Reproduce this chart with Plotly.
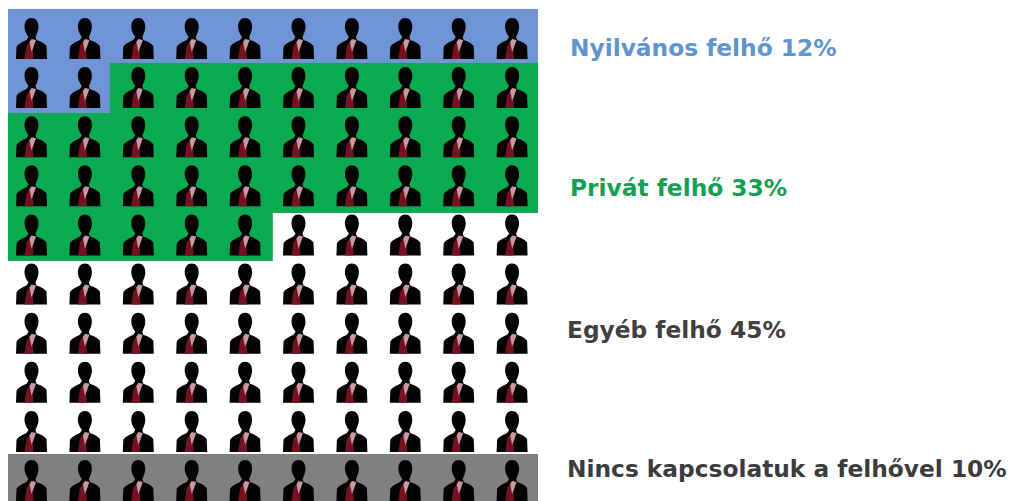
import plotly.graph_objects as go

# Data
categories = ["Nyilvános felhő", "Privát felhő", "Egyéb felhő", "Nincs kapcsolatuk a felhővel"]
percent = [12, 33, 45, 10]

# Style and layout
band_colors = ["#6f95d6", "#0aaa50", "#ffffff", "#808080"]
text_colors = ["#5f94cf", "#14a050", "#404040", "#3c3c3c"]
label_pixel_y = [48, 188, 329, 468]
n_cols = 10
n_rows = 10
col_edges = [0, 1, 1.97, 3, 4, 5.02, 6, 7, 8, 9, 10]
row_edges = [-0.1, 1.08, 2.10, 3.12, 4.14, 5.11, 6.1, 7.1, 8.1, 9.04, 10.1]

# Waffle cells, in reading order
cells = [i for i, n in enumerate(percent) for _ in range(n)]
z = [cells[r * n_cols:(r + 1) * n_cols] for r in range(n_rows)]

fig = go.Figure(go.Heatmap(
    x=col_edges, y=row_edges, z=z, zmin=0, zmax=3, showscale=False, hoverinfo="skip",
    colorscale=[[0, band_colors[0]], [1 / 6, band_colors[0]], [1 / 6, band_colors[1]], [3 / 6, band_colors[1]],
                [3 / 6, band_colors[2]], [5 / 6, band_colors[2]], [5 / 6, band_colors[3]], [1, band_colors[3]]],
))

# Person glyph, in pixels relative to its anchor (bottom centre)
body = ("M-15.5,0 L-15,12 C-14,15 -9,17 -5,19 L-3,22 C-5.5,25 -7,29 -7,32 C-7,38 -4,41 0,41 "
        "C4,41 7,38 7,32 C7,29 5.5,25 4,22 L5,19 C8,18 13,16 15,13 L15.5,0 Z")
tie = "M-7,0 L-5,13 L-2,17 L1,13 L2,0 Z"
collar = "M-2,17 L0,20 L4.5,19 L2,12 L0,7 L-1,12 Z"
shapes = []
for r in range(n_rows):
    for c in range(n_cols):
        for path, col in ((body, "#050204"), (tie, "#751222"), (collar, "#c79aa0")):
            shapes.append(dict(type="path", xref="x", yref="y", xsizemode="pixel", ysizemode="pixel",
                               xanchor=c + 0.5, yanchor=r + 1, path=path, fillcolor=col,
                               line=dict(width=0), layer="above"))

annotations = [
    dict(text=f"<b>{cat} {p}%</b>", xref="paper", yref="paper", x=1.056 if i < 2 else 1.051,
         y=1 - (py - 9) / 492, xanchor="left", yanchor="middle", showarrow=False,
         font=dict(family="DejaVu Sans", size=23.3, color=tc))
    for i, (cat, p, tc, py) in enumerate(zip(categories, percent, text_colors, label_pixel_y))
]

fig.update_layout(
    width=1011, height=501, autosize=False,
    margin=dict(l=8, r=473, t=9, b=0),
    paper_bgcolor="white", plot_bgcolor="white",
    xaxis=dict(range=[0.06, 9.985], visible=False, fixedrange=True),
    yaxis=dict(range=[10.0, -0.018], visible=False, fixedrange=True),
    shapes=shapes, annotations=annotations, showlegend=False,
)
fig.write_html("out.html", config={"displayModeBar": False},
               post_script="document.body.style.margin='0';document.documentElement.style.overflow='hidden';")
